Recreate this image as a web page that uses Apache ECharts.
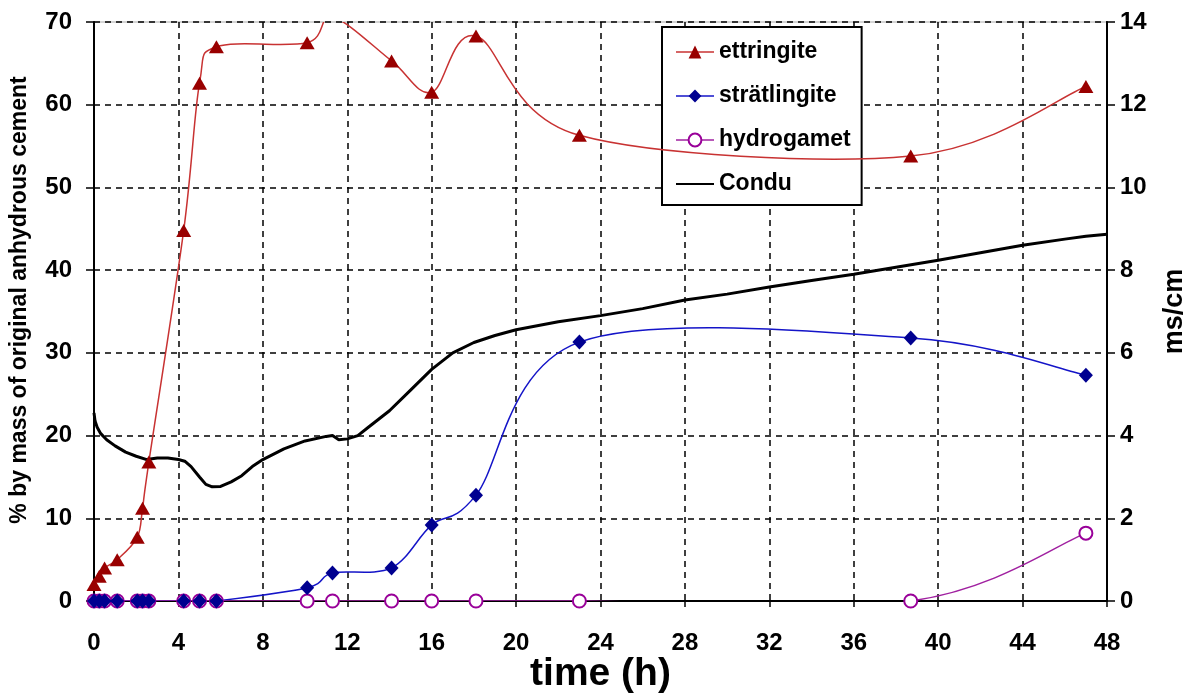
<!DOCTYPE html>
<html>
<head>
<meta charset="utf-8">
<script src="https://cdn.jsdelivr.net/npm/echarts@6/dist/echarts.min.js"></script>
<style>
html,body{margin:0;padding:0;background:#fff;overflow:hidden;}
#chart{width:1190px;height:693px;}
</style>
</head>
<body>
<div id="chart"></div>
<script>
// sample times (h)
var sampleTime = [0, 0.25, 0.5, 1.1, 2.05, 2.3, 2.6, 4.25, 5.0, 5.8, 10.1, 11.3, 14.1, 16.0, 18.1, 23.0, 38.7, 47.0];
// % by mass of original anhydrous cement
var ettringite   = [2.0, 3.0, 4.0, 5.0, 7.7, 11.2, 16.8, 44.8, 62.6, 67.0, 67.5, 70.6, 65.3, 61.5, 68.3, 56.3, 53.8, 62.2];
var stratlingite = [0, 0, 0, 0, 0, 0, 0, 0, 0, 0, 1.6, 3.4, 4.0, 9.2, 12.8, 31.3, 31.8, 27.3];
var hydrogarnet  = [0, 0, 0, 0, 0, 0, 0, 0, 0, 0, 0, 0, 0, 0, 0, 0, 0, 8.2];
// conductivity (ms/cm)
var condTime  = [0, 0.05, 0.15, 0.3, 0.6, 1, 1.5, 2, 2.5, 3, 3.5, 4, 4.3, 4.6, 5, 5.3, 5.6, 6, 6.5, 7, 7.5, 8, 9, 10, 11, 11.3, 11.6, 12, 12.5, 13, 14, 15, 16, 17, 18, 19, 20, 22, 24, 26, 28, 30, 32, 34, 36, 38, 40, 42, 44, 46, 47, 48];
var condValue = [4.55, 4.35, 4.2, 4.06, 3.9, 3.75, 3.6, 3.5, 3.42, 3.46, 3.46, 3.42, 3.38, 3.25, 3.0, 2.82, 2.76, 2.77, 2.88, 3.03, 3.25, 3.42, 3.68, 3.87, 3.98, 4.0, 3.9, 3.92, 4.0, 4.2, 4.6, 5.1, 5.6, 6.0, 6.25, 6.42, 6.56, 6.75, 6.9, 7.07, 7.28, 7.42, 7.59, 7.75, 7.9, 8.07, 8.24, 8.42, 8.6, 8.75, 8.82, 8.87];
var xTicks = [0, 48, 4];
var yLeft = [0, 70, 10];
var yRight = [0, 14, 2];

function pairs(xs, ys) { return xs.map(function (x, i) { return [x, ys[i]]; }); }

// Excel-like smoothed curve (Catmull-Rom Bezier) built in pixel space from api.coord
function smoothCurve(xs, ys, color) {
  return function (params, api) {
    if (params.dataIndex !== 0) return null;
    var p = xs.map(function (x, i) { return api.coord([x, ys[i]]); });
    var kids = [];
    for (var i = 0; i < p.length - 1; i++) {
      var p0 = p[i - 1] || p[i], p1 = p[i], p2 = p[i + 1], p3 = p[i + 2] || p[i + 1];
      kids.push({
        type: 'bezierCurve',
        shape: {
          x1: p1[0], y1: p1[1], x2: p2[0], y2: p2[1],
          cpx1: p1[0] + (p2[0] - p0[0]) / 6, cpy1: p1[1] + (p2[1] - p0[1]) / 6,
          cpx2: p2[0] - (p3[0] - p1[0]) / 6, cpy2: p2[1] - (p3[1] - p1[1]) / 6
        },
        style: {stroke: color, lineWidth: 1.5, fill: null}
      });
    }
    return {type: 'group', children: kids};
  };
}

var font = '"Liberation Sans", Arial, sans-serif';
var chart = echarts.init(document.getElementById('chart'), null, {renderer: 'canvas'});
var dashed = {show: true, lineStyle: {color: '#000', width: 1.5, type: [6, 5]}};
var colE = '#C83232', colS = '#1414C8', colH = '#A020A0';

chart.setOption({
  animation: false,
  backgroundColor: '#fff',
  grid: {left: 94, right: 83, top: 22, bottom: 92, containLabel: false, outerBoundsMode: 'none',
         show: true, borderColor: '#aaa', borderWidth: 1},
  graphic: [{
    type: 'text', x: 20, y: 300, rotation: Math.PI / 2, z: 10,
    style: {text: '% by mass of original anhydrous cement', fill: '#000',
            font: 'bold 23px "Liberation Sans", Arial, sans-serif', align: 'center', verticalAlign: 'middle'}
  }],
  legend: {
    orient: 'vertical', left: 662, top: 27,
    padding: [13, 11, 9, 13], itemGap: 20, itemWidth: 38, itemHeight: 16,
    backgroundColor: '#fff', borderColor: '#000', borderWidth: 2,
    textStyle: {fontFamily: font, fontWeight: 'bold', fontSize: 23, color: '#000', lineHeight: 24},
    data: [
      {name: 'ettringite', lineStyle: {color: colE, width: 1.5, opacity: 1, type: 'solid'}},
      {name: 'strätlingite', lineStyle: {color: colS, width: 1.5, opacity: 1, type: 'solid'}},
      {name: 'hydrogamet', lineStyle: {color: colH, width: 1.5, opacity: 1, type: 'solid'}},
      {name: 'Condu', itemStyle: {color: 'rgba(0,0,0,0)', borderWidth: 0, opacity: 0},
       lineStyle: {color: '#000', width: 2, opacity: 1, type: 'solid'}}
    ]
  },
  xAxis: {
    type: 'value', min: xTicks[0], max: xTicks[1], interval: xTicks[2],
    name: 'time (h)', nameLocation: 'middle', nameGap: 54, nameMoveOverlap: false,
    nameTextStyle: {fontFamily: font, fontWeight: 'bold', fontSize: 39, color: '#000'},
    axisLine: {show: true, onZero: false, lineStyle: {color: '#000', width: 2}},
    axisTick: {show: true, length: 6, lineStyle: {color: '#000', width: 1.5}},
    axisLabel: {fontFamily: font, fontWeight: 'bold', fontSize: 24, color: '#000', margin: 30},
    splitLine: dashed
  },
  yAxis: [{
    type: 'value', min: yLeft[0], max: yLeft[1], interval: yLeft[2], position: 'left',
    axisLine: {show: true, lineStyle: {color: '#000', width: 2}},
    axisTick: {show: true, length: 8, lineStyle: {color: '#000', width: 1.5}},
    axisLabel: {fontFamily: font, fontWeight: 'bold', fontSize: 24, color: '#000', margin: 22},
    splitLine: dashed
  }, {
    type: 'value', min: yRight[0], max: yRight[1], interval: yRight[2], position: 'right',
    name: 'ms/cm', nameLocation: 'middle', nameGap: 54,
    nameTextStyle: {fontFamily: font, fontWeight: 'bold', fontSize: 27, color: '#000'},
    axisLine: {show: true, lineStyle: {color: '#000', width: 2}},
    axisTick: {show: true, length: 8, lineStyle: {color: '#000', width: 1.5}},
    axisLabel: {fontFamily: font, fontWeight: 'bold', fontSize: 24, color: '#000', margin: 13},
    splitLine: {show: false}
  }],
  series: [{
    name: 'ettringite', type: 'line', yAxisIndex: 0, z: 8,
    symbol: 'triangle', symbolSize: [15, 13],
    lineStyle: {opacity: 0}, itemStyle: {color: '#990000'},
    data: pairs(sampleTime, ettringite)
  }, {
    name: 'strätlingite', type: 'line', yAxisIndex: 0, z: 7,
    symbol: 'diamond', symbolSize: [14, 15],
    lineStyle: {opacity: 0}, itemStyle: {color: '#000090'},
    data: pairs(sampleTime, stratlingite)
  }, {
    name: 'hydrogamet', type: 'line', yAxisIndex: 0, z: 6,
    symbol: 'emptyCircle', symbolSize: 13,
    lineStyle: {opacity: 0}, itemStyle: {color: '#990099', borderWidth: 1.5},
    data: pairs(sampleTime, hydrogarnet)
  }, {
    name: 'Condu', type: 'line', yAxisIndex: 1, symbol: 'none', z: 5,
    lineStyle: {color: '#000', width: 3}, itemStyle: {color: '#000'},
    data: pairs(condTime, condValue)
  }, {
    name: 'ettringite curve', type: 'custom', yAxisIndex: 0, z: 4, clip: true, silent: true,
    renderItem: smoothCurve(sampleTime, ettringite, colE),
    data: pairs(sampleTime, ettringite)
  }, {
    name: 'strätlingite curve', type: 'custom', yAxisIndex: 0, z: 3, clip: true, silent: true,
    renderItem: smoothCurve(sampleTime, stratlingite, colS),
    data: pairs(sampleTime, stratlingite)
  }, {
    name: 'hydrogamet curve', type: 'custom', yAxisIndex: 0, z: 3, clip: true, silent: true,
    renderItem: smoothCurve(sampleTime, hydrogarnet, colH),
    data: pairs(sampleTime, hydrogarnet)
  }]
});
</script>
</body>
</html>
